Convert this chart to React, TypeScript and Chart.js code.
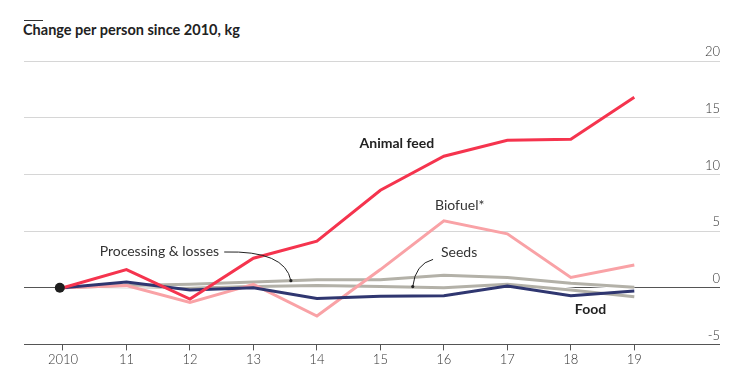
import React, { useEffect, useRef } from "react";
import { Chart, registerables } from "chart.js";

Chart.register(...registerables);

const yearLabels = ["2010", "11", "12", "13", "14", "15", "16", "17", "18", "19"];
const yTicks = [-5, 0, 5, 10, 15, 20];
const animalFeed = [0, 1.6, -1.0, 2.6, 4.1, 8.6, 11.6, 13.0, 13.1, 16.8];
const biofuel = [0, 0.2, -1.3, 0.3, -2.5, 1.6, 5.9, 4.75, 0.9, 2.0];
const food = [0, 0.5, -0.2, 0.0, -0.95, -0.75, -0.7, 0.15, -0.7, -0.3];
const processing = [0, 0.2, 0.3, 0.5, 0.7, 0.7, 1.1, 0.9, 0.4, 0.05];
const seeds = [0, 0.1, 0.0, 0.1, 0.2, 0.1, 0.0, 0.3, -0.2, -0.8];

const FONT = "Lato, 'Noto Sans', sans-serif";

const toXY = (arr: number[]) => arr.map((v, i) => ({ x: i, y: v }));

const annotationPlugin = {
  id: "annotations",
  afterDatasetsDraw(chart: any) {
    const { ctx, scales } = chart;
    const xs = scales.x;
    const ys = scales.y;
    const px = (v: number) => xs.getPixelForValue(v);
    const py = (v: number) => ys.getPixelForValue(v);
    ctx.save();
    ctx.textBaseline = "middle";
    ctx.fillStyle = "#222";
    ctx.font = `bold 14px ${FONT}`;
    ctx.textAlign = "center";
    ctx.fillText("Animal feed", px(5.26), py(12.74));
    ctx.fillText("Food", px(8.31), py(-1.95));
    ctx.font = `14px ${FONT}`;
    ctx.fillStyle = "#333";
    ctx.fillText("Biofuel*", px(6.25), py(7.26));
    ctx.fillText("Seeds", px(6.24), py(3.1));
    ctx.textAlign = "right";
    ctx.fillText("Processing & losses", px(2.46), py(3.2));

    ctx.strokeStyle = "#222";
    ctx.lineWidth = 1;
    ctx.beginPath();
    ctx.moveTo(px(2.54), py(3.15));
    ctx.quadraticCurveTo(px(3.5), py(3.3), px(3.59), py(0.62));
    ctx.stroke();
    ctx.beginPath();
    ctx.moveTo(px(5.83), py(2.5));
    ctx.quadraticCurveTo(px(5.55), py(2.1), px(5.51), py(0.1));
    ctx.stroke();
    ctx.fillStyle = "#222";
    ctx.beginPath();
    ctx.arc(px(3.59), py(0.62), 1.6, 0, Math.PI * 2);
    ctx.fill();
    ctx.beginPath();
    ctx.arc(px(5.51), py(0.1), 1.6, 0, Math.PI * 2);
    ctx.fill();
    ctx.restore();
  },
};

export default function App() {
  const ref = useRef<HTMLCanvasElement>(null);
  useEffect(() => {
    if (!ref.current) return;
    const lineDs = (label: string, data: number[], color: string, width = 3) => ({
      label,
      data: toXY(data),
      borderColor: color,
      backgroundColor: color,
      borderWidth: width,
      pointRadius: 0,
      tension: 0,
      fill: false,
    });
    const chart = new Chart(ref.current, {
      type: "line",
      data: {
        datasets: [
          {
            label: "Start",
            data: [{ x: -0.05, y: 0 }],
            pointRadius: 5,
            pointBackgroundColor: "#1e1e1e",
            pointBorderWidth: 0,
            borderWidth: 0,
            showLine: false,
            order: 0,
          },
          { ...lineDs("Animal feed", animalFeed, "#f5344e"), order: 1 },
          { ...lineDs("Food", food, "#2f3670"), order: 2 },
          { ...lineDs("Biofuel", biofuel, "#f9a2a6"), order: 3 },
          { ...lineDs("Processing & losses", processing, "#b3b1a8"), order: 4 },
          { ...lineDs("Processing halo", processing, "#ffffff", 5), order: 5 },
          { ...lineDs("Seeds", seeds, "#b3b1a8"), order: 6 },
          { ...lineDs("Seeds halo", seeds, "#ffffff", 5), order: 7 },
        ],
      },
      options: {
        animation: false,
        responsive: false,
        layout: { padding: { left: 24, right: 17, top: 61, bottom: 13 } },
        plugins: { legend: { display: false }, tooltip: { enabled: false } },
        scales: {
          x: {
            type: "linear",
            min: -0.614,
            max: 10.35,
            afterBuildTicks: (axis: any) => {
              axis.ticks = yearLabels.map((_, i) => ({ value: i }));
            },
            ticks: {
              callback: (v: any) => yearLabels[v as number],
              font: { family: FONT, size: 13, weight: "300" },
              color: "#333",
              padding: 2,
              maxRotation: 0,
              autoSkip: false,
            },
            grid: {
              drawOnChartArea: false,
              drawTicks: true,
              tickLength: 6,
              tickColor: "#555",
              color: "#555",
            },
            border: { display: false },
          },
          y: {
            position: "right",
            min: -5,
            max: 20,
            afterBuildTicks: (axis: any) => {
              axis.ticks = yTicks.map((v) => ({ value: v }));
            },
            ticks: {
              mirror: true,
              padding: 0,
              labelOffset: -9,
              font: { family: FONT, size: 13, weight: "300" },
              color: "#333",
            },
            grid: {
              drawTicks: false,
              color: (c: any) => (c.tick && (c.tick.value === 0 || c.tick.value === -5) ? "#555" : "#d6d6d6"),
              lineWidth: 1,
            },
            border: { display: false },
          },
        },
      },
      plugins: [annotationPlugin],
    } as any);
    return () => chart.destroy();
  }, []);
  return (
    <div style={{ position: "fixed", left: 0, top: 0, width: 737, height: 383, background: "#fff" }}>
      <div style={{ position: "absolute", left: 24, top: 20, width: 19, borderTop: "1px solid #333" }} />
      <div
        style={{
          position: "absolute",
          left: 23,
          top: 21,
          fontFamily: FONT,
          fontWeight: 700,
          fontSize: 14.5,
          color: "#222",
          whiteSpace: "nowrap",
        }}
      >
        Change per person since 2010, kg
      </div>
      <canvas ref={ref} width={737} height={383} style={{ position: "absolute", left: 0, top: 0 }} />
    </div>
  );
}
